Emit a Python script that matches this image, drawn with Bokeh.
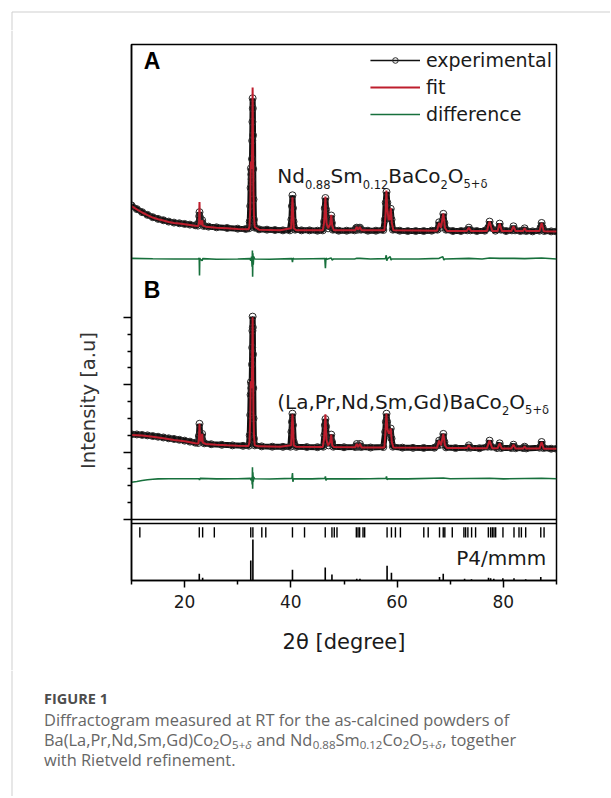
import math
from bokeh.plotting import figure
from bokeh.models import Range1d, FixedTicker, Label, Legend, LegendItem, Span
from bokeh.layouts import column, row
from bokeh.embed import file_html
from bokeh.resources import INLINE

# ---------------- data ----------------
# Panel A: Nd0.88Sm0.12BaCo2O5+d  (y in arbitrary stacked units)
expA_x = [10.0, 11.0, 12.0, 13.0, 14.0, 15.0, 16.0, 17.0, 18.0, 19.0, 20.0, 21.0, 22.0, 22.5,
          22.65, 22.75, 22.8, 22.9, 23.05, 23.2, 23.3, 23.4, 23.6, 24.5, 26.0, 28.0, 30.0, 31.5, 32.1,
          32.25, 32.35, 32.42, 32.48, 32.55, 32.62, 32.68, 32.72, 32.76, 32.8, 32.84, 32.88, 32.92, 32.97,
          33.05, 33.2, 34.0, 35.5, 37.0, 38.5, 39.8, 40.1, 40.2, 40.3, 40.4, 40.5, 40.8, 42.0, 43.5, 45.0,
          46.0, 46.25, 46.38, 46.5, 46.62, 46.8, 47.0, 47.35, 47.5, 47.6, 47.72, 47.9, 49.0, 50.5, 52.0,
          52.25, 52.4, 52.6, 52.85, 53.0, 53.2, 54.5, 56.0, 57.4, 57.7, 57.85, 58.0, 58.15, 58.35, 58.6,
          58.8, 58.95, 59.2, 60.5, 62.0, 63.5, 65.0, 66.5, 67.6, 67.9, 68.2, 68.5, 68.7, 68.9, 69.2, 70.5,
          72.0, 73.2, 73.5, 73.8, 75.0, 76.5, 77.15, 77.4, 77.65, 78.5, 79.1, 79.3, 79.55, 80.5, 81.6,
          81.9, 82.2, 83.2, 83.8, 84.0, 84.3, 85.5, 86.8, 87.0, 87.2, 87.4, 87.7, 89.0, 90.0]
expA_y = [4.66, 4.605, 4.56, 4.52, 4.485, 4.46, 4.44, 4.42, 4.405, 4.395, 4.385, 4.375, 4.365, 4.36,
          4.40, 4.50, 4.56, 4.48, 4.40, 4.40, 4.44, 4.39, 4.355, 4.345, 4.335, 4.325, 4.315, 4.31, 4.32,
          4.42, 4.65, 4.92, 5.21, 5.12, 5.05, 5.35, 5.62, 5.9, 6.25, 6.1, 5.7, 5.2, 4.75,
          4.45, 4.33, 4.305, 4.30, 4.295, 4.29, 4.29, 4.45, 4.65, 4.81, 4.62, 4.42, 4.30, 4.29, 4.29, 4.285,
          4.29, 4.42, 4.62, 4.77, 4.60, 4.40, 4.32, 4.35, 4.45, 4.51, 4.40, 4.30, 4.285, 4.285, 4.29,
          4.32, 4.33, 4.30, 4.32, 4.33, 4.30, 4.285, 4.285, 4.295, 4.45, 4.70, 4.86, 4.70, 4.50, 4.50,
          4.61, 4.45, 4.30, 4.285, 4.28, 4.28, 4.28, 4.285, 4.30, 4.41, 4.33, 4.42, 4.535, 4.40, 4.30, 4.28,
          4.28, 4.29, 4.33, 4.29, 4.28, 4.285, 4.33, 4.42, 4.33, 4.285, 4.31, 4.39, 4.30, 4.28, 4.29,
          4.35, 4.29, 4.28, 4.29, 4.32, 4.28, 4.275, 4.285, 4.33, 4.40, 4.33, 4.28, 4.275, 4.273]

fitA_x = [10.0, 11.0, 12.0, 13.0, 14.0, 15.0, 16.0, 17.0, 18.0, 19.0, 20.0, 21.0, 22.0, 22.6, 22.72,
          22.8, 22.88, 23.15, 23.3, 23.42, 24.0, 26.0, 28.0, 30.0, 32.0, 32.2, 32.35, 32.45, 32.55, 32.65,
          32.72, 32.8, 32.88, 32.95, 33.05, 33.2, 34.0, 38.0, 40.05, 40.2, 40.3, 40.4, 40.55, 41.0, 46.0,
          46.25, 46.5, 46.7, 47.0, 47.4, 47.6, 47.78, 48.1, 52.1, 52.4, 52.65, 53.0, 53.3, 57.6, 57.8,
          57.98, 58.15, 58.4, 58.6, 58.8, 59.0, 59.3, 67.5, 67.9, 68.25, 68.7, 69.0, 69.4, 73.1, 73.5,
          73.9, 76.9, 77.4, 77.9, 78.9, 79.3, 79.7, 81.5, 81.9, 82.3, 83.7, 84.0, 84.3, 86.8, 87.2, 87.6,
          90.0]
fitA_y = [4.65, 4.60, 4.555, 4.515, 4.48, 4.455, 4.435, 4.415, 4.40, 4.39, 4.38, 4.37, 4.36, 4.355, 4.42,
          4.71, 4.42, 4.37, 4.44, 4.36, 4.345, 4.33, 4.32, 4.31, 4.305, 4.34, 4.60, 5.30, 5.30, 5.20,
          5.60, 6.41, 5.55, 4.90, 4.50, 4.34, 4.30, 4.29, 4.32, 4.60, 4.78, 4.60, 4.32, 4.29, 4.29,
          4.40, 4.79, 4.40, 4.32, 4.38, 4.52, 4.36, 4.29, 4.29, 4.34, 4.30, 4.34, 4.29, 4.29, 4.50,
          4.88, 4.60, 4.45, 4.45, 4.62, 4.40, 4.29, 4.285, 4.40, 4.33, 4.54, 4.33, 4.28, 4.28, 4.33,
          4.28, 4.28, 4.42, 4.28, 4.28, 4.39, 4.28, 4.28, 4.35, 4.28, 4.28, 4.32, 4.28, 4.28, 4.40, 4.278,
          4.273]

diffA_x = [10.0, 14.0, 18.0, 22.6, 22.75, 22.8, 22.85, 22.95, 23.3, 23.4, 26.0, 30.0, 32.3, 32.45, 32.6,
           32.7, 32.76, 32.8, 32.85, 32.92, 33.0, 33.2, 36.0, 40.2, 40.3, 40.4, 40.6, 44.0, 46.4, 46.5,
           46.6, 46.8, 47.6, 47.75, 48.0, 52.0, 52.4, 53.0, 55.0, 57.8, 57.95, 58.05, 58.2, 58.7, 58.85,
           59.0, 64.0, 67.9, 68.6, 68.8, 69.0, 73.5, 76.0, 77.4, 79.3, 82.0, 84.0, 87.2, 90.0]
diffA_y = [3.875, 3.868, 3.865, 3.865, 3.88, 3.62, 3.88, 3.86, 3.84, 3.87, 3.862, 3.866, 3.87, 3.84, 3.90,
           3.75, 3.99, 3.60, 3.95, 3.78, 3.90, 3.865, 3.862, 3.87, 3.82, 3.88, 3.865, 3.868, 3.87, 3.73,
           3.88, 3.862, 3.88, 3.85, 3.865, 3.866, 3.875, 3.875, 3.865, 3.87, 3.92, 3.84, 3.87, 3.90, 3.85,
           3.865, 3.866, 3.875, 3.90, 3.85, 3.866, 3.875, 3.865, 3.88, 3.875, 3.875, 3.87, 3.88, 3.866]

# Panel B: (La,Pr,Nd,Sm,Gd)BaCo2O5+d
expB_x = [10.0, 11.0, 12.0, 13.0, 14.0, 15.0, 16.0, 17.0, 18.0, 19.0, 20.0, 21.0, 22.0, 22.55, 22.68,
          22.8, 22.92, 23.1, 23.2, 23.3, 23.42, 23.7, 25.0, 27.0, 29.0, 31.0, 32.1, 32.25, 32.35, 32.42,
          32.48, 32.55, 32.62, 32.68, 32.72, 32.76, 32.8, 32.84, 32.88, 32.92, 32.97, 33.05, 33.2, 34.5,
          36.5, 38.5, 39.9, 40.1, 40.2, 40.3, 40.4, 40.55, 41.0, 43.0, 45.0, 46.1, 46.3, 46.4, 46.5,
          46.62, 46.8, 47.1, 47.45, 47.6, 47.75, 48.0, 50.0, 52.1, 52.4, 52.65, 52.8, 53.0, 53.25, 55.0,
          57.4, 57.75, 57.88, 58.0, 58.12, 58.35, 58.6, 58.8, 58.95, 59.2, 61.0, 63.0, 65.0, 67.0, 67.65,
          67.9, 68.2, 68.5, 68.7, 68.9, 69.2, 71.0, 73.2, 73.5, 73.8, 75.5, 77.05, 77.4, 77.7, 78.8, 79.3,
          79.6, 81.5, 81.9, 82.3, 83.7, 84.0, 84.3, 86.8, 87.2, 87.55, 89.0, 90.0]
expB_y = [1.265, 1.262, 1.255, 1.248, 1.238, 1.228, 1.217, 1.205, 1.195, 1.183, 1.17, 1.155, 1.14, 1.135, 1.24,
          1.42, 1.26, 1.17, 1.20, 1.27, 1.16, 1.13, 1.117, 1.108, 1.10, 1.093, 1.095, 1.25, 1.55, 1.85,
          2.04, 1.95, 2.00, 2.30, 2.55, 2.80, 3.01, 2.85, 2.45, 1.95, 1.50, 1.20, 1.10, 1.085,
          1.08, 1.078, 1.08, 1.30, 1.45, 1.57, 1.40, 1.15, 1.078, 1.075, 1.073, 1.08, 1.25, 1.40, 1.49,
          1.38, 1.15, 1.10, 1.18, 1.26, 1.15, 1.08, 1.072, 1.075, 1.12, 1.08, 1.09, 1.12, 1.075, 1.068,
          1.075, 1.30, 1.45, 1.57, 1.45, 1.30, 1.28, 1.35, 1.20, 1.08, 1.066, 1.063, 1.062, 1.065, 1.10,
          1.17, 1.11, 1.19, 1.27, 1.15, 1.07, 1.06, 1.065, 1.10, 1.065, 1.058, 1.08, 1.17, 1.08, 1.06, 1.13,
          1.06, 1.06, 1.11, 1.058, 1.06, 1.08, 1.055, 1.065, 1.15, 1.06, 1.05, 1.049]

fitB_x = [10.0, 12.0, 14.0, 16.0, 18.0, 20.0, 22.0, 22.6, 22.7, 22.8, 22.9, 23.15, 23.3, 23.42, 24.0,
          26.0, 28.0, 30.0, 32.0, 32.2, 32.35, 32.45, 32.55, 32.65, 32.72, 32.8, 32.88, 32.95, 33.05,
          33.2, 34.0, 38.0, 40.05, 40.2, 40.3, 40.4, 40.55, 41.0, 46.0, 46.25, 46.5, 46.7, 47.0, 47.4,
          47.6, 47.78, 48.1, 52.1, 52.4, 52.65, 53.0, 53.3, 57.6, 57.8, 57.98, 58.15, 58.4, 58.6, 58.8,
          59.0, 59.3, 67.5, 67.9, 68.25, 68.7, 69.0, 69.4, 73.1, 73.5, 73.9, 76.9, 77.4, 77.9, 78.9, 79.3,
          79.7, 81.5, 81.9, 82.3, 83.7, 84.0, 84.3, 86.8, 87.2, 87.6, 90.0]
fitB_y = [1.255, 1.245, 1.228, 1.205, 1.18, 1.16, 1.132, 1.128, 1.20, 1.42, 1.20, 1.16, 1.27, 1.14, 1.12,
          1.11, 1.102, 1.095, 1.092, 1.14, 1.50, 2.05, 2.00, 1.95, 2.40, 3.00, 2.30, 1.60, 1.25,
          1.10, 1.085, 1.078, 1.10, 1.40, 1.56, 1.40, 1.10, 1.078, 1.075, 1.20, 1.56, 1.18, 1.10, 1.15,
          1.26, 1.10, 1.074, 1.073, 1.12, 1.075, 1.12, 1.07, 1.07, 1.30, 1.57, 1.35, 1.28, 1.28, 1.35,
          1.15, 1.068, 1.063, 1.17, 1.10, 1.27, 1.10, 1.06, 1.06, 1.10, 1.058, 1.058, 1.17, 1.058, 1.056, 1.13,
          1.055, 1.055, 1.11, 1.054, 1.053, 1.08, 1.052, 1.052, 1.15, 1.05, 1.048]

diffB_x = [10.0, 11.0, 12.0, 13.0, 14.0, 15.0, 17.0, 20.0, 22.7, 22.8, 22.9, 26.0, 30.0, 32.4, 32.5,
           32.65, 32.72, 32.77, 32.8, 32.85, 32.92, 33.0, 33.2, 36.0, 40.2, 40.3, 40.38, 40.5, 44.0,
           46.4, 46.5, 46.6, 46.8, 52.0, 55.0, 57.9, 58.0, 58.1, 58.3, 62.0, 68.7, 70.0, 77.4, 80.0,
           87.2, 90.0]
diffB_y = [0.553, 0.565, 0.578, 0.59, 0.598, 0.603, 0.605, 0.604, 0.605, 0.585, 0.61, 0.603, 0.605, 0.61, 0.58,
           0.62, 0.52, 0.776, 0.455, 0.70, 0.56, 0.63, 0.604, 0.602, 0.61, 0.69, 0.56, 0.605, 0.603,
           0.61, 0.64, 0.58, 0.604, 0.603, 0.604, 0.61, 0.64, 0.59, 0.604, 0.603, 0.615, 0.604, 0.612, 0.603,
           0.612, 0.604]

# Bragg reflection positions (P4/mmm) and calculated stick intensities
bragg_pos = [11.57, 22.76, 23.39, 25.59, 32.45, 32.85, 34.53, 35.28, 40.3, 42.57, 46.47, 47.73, 48.17,
             48.68, 52.32, 52.64, 52.94, 53.58, 53.89, 58.11, 58.93, 59.68, 60.62, 65.02, 65.85, 67.98,
             68.68, 68.98, 70.38, 72.57, 72.89, 73.32, 74.02, 74.77, 77.17, 77.6, 77.92, 78.23, 78.55,
             79.92, 82.0, 82.94, 83.39, 84.2, 87.04, 87.66]
stick_pos = [22.76, 23.39, 32.45, 32.85, 40.3, 46.47, 47.73, 52.4, 53.0, 58.11, 58.93, 67.98, 68.68,
             72.7, 74.0, 77.2, 77.6, 78.2, 79.9, 82.0, 84.2, 87.04]
stick_h = [0.12, 0.05, 0.35, 0.72, 0.19, 0.23, 0.105, 0.03, 0.03, 0.26, 0.135, 0.06, 0.12,
           0.03, 0.02, 0.05, 0.04, 0.03, 0.04, 0.04, 0.02, 0.06]

x_ticks = [20, 40, 60, 80]
x_minor = [10, 30, 50, 70, 90]
y_ticks = [0, 1, 2, 3]
y_minor = [0.25, 0.5, 0.75, 1.25, 1.5, 1.75, 2.25, 2.5, 2.75]

# ---------------- styling ----------------
BLACK = "#111111"
RED = "#be1e2d"
GREEN = "#17703c"
TXT = "#1a1a1a"
CF = "DejaVu Sans"
CAP = "Open Sans"
CAPC = "#666666"
GRAY = "#cfcfcf"

PAGE_W = 610
TOP_H = 30
MID_H = 640
CAP_H = 126
LEFT_W = 110

DV = {' ': 651, '(': 799, ')': 799, '+': 1716, ',': 651, '.': 651, '/': 690,
      'A': 1401, 'B': 1405, 'C': 1430, 'G': 1577, 'L': 1141, 'N': 1532, 'O': 1612, 'P': 1235,
      'S': 1300, 'a': 1255, 'd': 1300, 'm': 1995, 'o': 1253, 'r': 842, 'δ': 1253}
OS = {' ': 532, '(': 604, ')': 604, '+': 1171, ',': 496, '.': 545, '-': 659,
      'A': 1296, 'B': 1327, 'C': 1292, 'D': 1493, 'G': 1491, 'L': 1075, 'N': 1593, 'O': 1599,
      'P': 1229, 'R': 1260, 'S': 1104, 'T': 1145,
      'a': 1139, 'c': 975, 'd': 1255, 'e': 1149, 'f': 694, 'g': 1122, 'h': 1257, 'i': 518,
      'l': 518, 'm': 1905, 'n': 1257, 'o': 1237, 'p': 1255, 'r': 836, 's': 977, 't': 723,
      'u': 1257, 'w': 1655, 'δ': 1237}


def width(s, table, size):
    digit = 1303 if table is DV else 1171
    return sum(table.get(c, digit if c.isdigit() else 1150) for c in s) / 2048.0 * size


def rich(fig, x, y, pieces, font, table, size, subsize, suboff, color):
    """Place a run of text pieces; subscripts are smaller and shifted down."""
    off = 0.0
    for text, sub, style in pieces:
        fs = subsize if sub else size
        lead = len(text) - len(text.lstrip(" "))
        off += width(" " * lead, table, fs)
        body = text.lstrip(" ")
        fig.add_layout(Label(x=x, y=y, x_offset=off, y_offset=(-suboff if sub else 0), text=body,
                             text_font=font, text_font_size=f"{fs}px", text_color=color,
                             text_font_style=style, text_baseline="middle", text_align="left"))
        off += width(body, table, fs)


def blank(w, h, x0, x1, y0, y1):
    f = figure(width=w, height=h, output_backend="svg", toolbar_location=None,
               x_range=Range1d(x0, x1), y_range=Range1d(y1, y0),
               x_axis_type=None, y_axis_type=None, min_border=0)
    f.outline_line_color = None
    f.background_fill_color = "white"
    f.border_fill_color = "white"
    f.grid.visible = False
    return f

# ---------------- page strips (page pixel coordinates) ----------------
top = blank(PAGE_W, TOP_H, 0, PAGE_W, 0, TOP_H)
top.segment(x0=[11.5], y0=[11.5], x1=[PAGE_W], y1=[11.5], line_color=GRAY, line_width=1)
top.segment(x0=[11.5], y0=[11.5], x1=[11.5], y1=[TOP_H], line_color=GRAY, line_width=1)

left = blank(LEFT_W, MID_H, 0, LEFT_W, TOP_H, TOP_H + MID_H)
left.segment(x0=[11.5], y0=[TOP_H], x1=[11.5], y1=[TOP_H + MID_H], line_color=GRAY, line_width=1)
left.add_layout(Label(x=88, y=400, text="Intensity [a.u]", angle=math.pi / 2, text_font=CF,
                      text_font_size="19.5px", text_color="#333333", text_align="center",
                      text_baseline="middle"))

cap = blank(PAGE_W, CAP_H, 0, PAGE_W, TOP_H + MID_H, TOP_H + MID_H + CAP_H)
cap.segment(x0=[11.5], y0=[TOP_H + MID_H], x1=[11.5], y1=[TOP_H + MID_H + CAP_H],
            line_color=GRAY, line_width=1)
CX = 43.5
cap.add_layout(Label(x=CX, y=697.7, text="FIGURE 1", text_font=CAP, text_font_style="bold",
                     text_font_size="14.5px", text_color="#4d4d4d", text_baseline="middle"))
cap.add_layout(Label(x=CX, y=718.7, text="Diffractogram measured at RT for the as-calcined powders of",
                     text_font=CAP, text_font_size="16.4px", text_color=CAPC, text_baseline="middle"))
rich(cap, CX, 738.7, [("Ba(La,Pr,Nd,Sm,Gd)Co", False, "normal"), ("2", True, "normal"),
                      ("O", False, "normal"), ("5+", True, "normal"), ("δ", True, "italic"),
                      (" and Nd", False, "normal"), ("0.88", True, "normal"), ("Sm", False, "normal"),
                      ("0.12", True, "normal"), ("Co", False, "normal"), ("2", True, "normal"),
                      ("O", False, "normal"), ("5+", True, "normal"), ("δ", True, "italic"),
                      (", together", False, "normal")],
     CAP, OS, 16.4, 11.5, 5.5, CAPC)
cap.add_layout(Label(x=CX, y=758.7, text="with Rietveld refinement.",
                     text_font=CAP, text_font_size="16.4px", text_color=CAPC, text_baseline="middle"))

# ---------------- main chart ----------------
p = figure(width=PAGE_W - LEFT_W, height=MID_H, output_backend="svg", toolbar_location=None,
           x_range=Range1d(10, 90), y_range=Range1d(-0.905, 7.0475),
           min_border_left=21, min_border_right=54, min_border_top=14, min_border_bottom=90)
p.extra_y_ranges = {"stick": Range1d(0, 9.4035)}
p.background_fill_color = "white"
p.border_fill_color = "white"
p.xgrid.visible = False
p.ygrid.visible = False
p.outline_line_color = "black"
p.outline_line_width = 1.5
p.outline_line_alpha = 1

p.xaxis.ticker = FixedTicker(ticks=x_ticks, minor_ticks=x_minor)
p.xaxis.axis_line_width = 1.5
p.xaxis.major_tick_line_width = 1.5
p.xaxis.minor_tick_line_width = 1.5
p.xaxis.major_tick_in = 0
p.xaxis.major_tick_out = 7
p.xaxis.minor_tick_in = 0
p.xaxis.minor_tick_out = 4
p.xaxis.major_label_text_font = CF
p.xaxis.major_label_text_font_size = "17px"
p.xaxis.major_label_text_color = TXT
p.xaxis.major_label_standoff = 7
p.xaxis.axis_label = "2θ [degree]"
p.xaxis.axis_label_text_font = CF
p.xaxis.axis_label_text_font_size = "21px"
p.xaxis.axis_label_text_font_style = "normal"
p.xaxis.axis_label_text_color = TXT
p.xaxis.axis_label_standoff = 19

p.yaxis.ticker = FixedTicker(ticks=y_ticks, minor_ticks=y_minor)
p.yaxis.axis_line_width = 1.5
p.yaxis.major_tick_line_width = 1.5
p.yaxis.minor_tick_line_width = 1.5
p.yaxis.major_tick_in = 0
p.yaxis.major_tick_out = 8
p.yaxis.minor_tick_in = 0
p.yaxis.minor_tick_out = 4
p.yaxis.major_label_text_color = None
p.yaxis.major_label_text_font_size = "1px"
p.yaxis.major_label_standoff = 2

# separator between main box and reflection panel
p.add_layout(Span(location=0, dimension="width", line_color="black", line_width=1.5))
p.add_layout(Span(location=-0.0593, dimension="width", line_color="black", line_width=1.5))


def draw_panel(ex, ey, fx, fy, dx, dy):
    p.line(ex, ey, line_color=BLACK, line_width=6)
    thin = p.line(ex, ey, line_color=BLACK, line_width=1.3)
    circ = p.scatter(ex, ey, marker="circle", size=7, fill_color=None,
                     line_color="#2a2a2a", line_width=1)
    fit = p.line(fx, fy, line_color=RED, line_width=2)
    diff = p.line(dx, dy, line_color=GREEN, line_width=1.6)
    return thin, circ, fit, diff


thinA, circA, fitA, diffA = draw_panel(expA_x, expA_y, fitA_x, fitA_y, diffA_x, diffA_y)
draw_panel(expB_x, expB_y, fitB_x, fitB_y, diffB_x, diffB_y)

# reflection panel
p.segment(x0=stick_pos, y0=[0] * len(stick_pos), x1=stick_pos, y1=stick_h,
          y_range_name="stick", line_color="black", line_width=1.6)
p.segment(x0=bragg_pos, y0=[0.754] * len(bragg_pos), x1=bragg_pos, y1=[0.935] * len(bragg_pos),
          y_range_name="stick", line_color="black", line_width=1.4)

legend = Legend(items=[
    LegendItem(label="experimental", renderers=[thinA, circA]),
    LegendItem(label="fit", renderers=[fitA]),
    LegendItem(label="difference", renderers=[diffA]),
], location="top_right", border_line_color=None, background_fill_alpha=0,
    label_text_font=CF, label_text_font_size="19px", label_text_color=TXT,
    glyph_width=50, glyph_height=14, label_height=24, label_width=126, spacing=3, padding=4,
    margin=4, label_standoff=6)
p.add_layout(legend)

# panel letters
p.add_layout(Label(x=12.3, y=6.81, text="A", text_font="Liberation Sans", text_font_style="bold",
                   text_font_size="23px", text_color="black", text_baseline="middle"))
p.add_layout(Label(x=12.3, y=3.412, text="B", text_font="Liberation Sans", text_font_style="bold",
                   text_font_size="23px", text_color="black", text_baseline="middle"))

# compound labels
rich(p, 37.43, 5.102, [("Nd", False, "normal"), ("0.88", True, "normal"), ("Sm", False, "normal"),
                       ("0.12", True, "normal"), ("BaCo", False, "normal"), ("2", True, "normal"),
                       ("O", False, "normal"), ("5+δ", True, "normal")],
     CF, DV, 20, 11.5, 8.5, TXT)
rich(p, 37.43, 1.745, [("(La,Pr,Nd,Sm,Gd)BaCo", False, "normal"), ("2", True, "normal"),
                       ("O", False, "normal"), ("5+δ", True, "normal")],
     CF, DV, 20, 11.5, 8.5, TXT)

p.add_layout(Label(x=88.06, y=-0.574, text="P4/mmm", text_font=CF, text_font_size="20px",
                   text_color=TXT, text_align="right", text_baseline="middle"))

for f in (top, left, p, cap):
    try:
        f.frame_align = False
    except Exception:
        pass

layout = column(top, row(left, p), cap)

open("out.html", "w").write(file_html(layout, INLINE))
